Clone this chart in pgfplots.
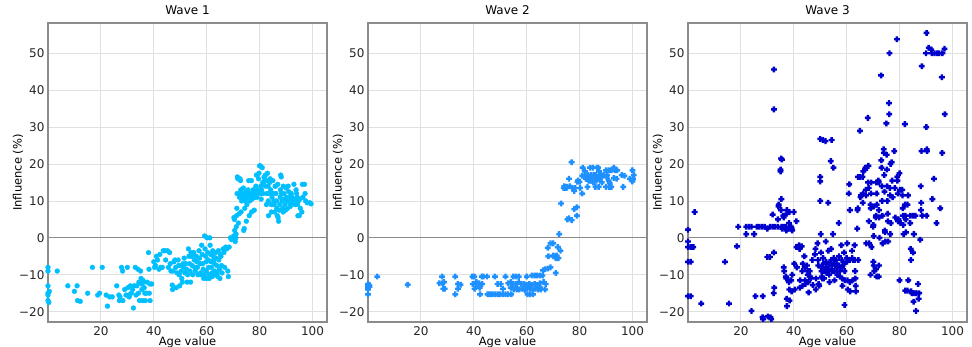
\documentclass[border=0pt]{standalone}
\usepackage{fontspec}
\setmainfont{DejaVu Sans}
\usepackage{pgfplots}
\pgfplotsset{compat=1.18}
\definecolor{c1}{RGB}{0,191,255}
\definecolor{c2}{RGB}{30,144,255}
\definecolor{c3}{RGB}{0,0,205}
\pgfdeclareplotmark{Pfill}{%
  \pgfpathrectangle{\pgfpoint{-\pgfplotmarksize}{-0.42\pgfplotmarksize}}{\pgfpoint{2\pgfplotmarksize}{0.84\pgfplotmarksize}}%
  \pgfpathrectangle{\pgfpoint{-0.42\pgfplotmarksize}{-\pgfplotmarksize}}{\pgfpoint{0.84\pgfplotmarksize}{2\pgfplotmarksize}}%
  \pgfusepathqfill}
\pgfplotsset{
  wave/.style={
    scale only axis, width=279pt, height=299pt, anchor=south west,
    xmin=0, xmax=105.5, ymin=-22.8, ymax=58.2,
    xtick={20,40,60,80,100}, xticklabels={20,40,60,80,100},
    ytick={-20,-10,0,10,20,30,40,50},
    yticklabels={−20,−10,0,10,20,30,40,50},
    major tick length=0pt,
    grid=major, grid style={draw=black!12, line width=0.8pt},
    extra y ticks={0}, extra y tick labels={},
    extra y tick style={grid style={draw=black!45, line width=1.1pt}},
    axis line style={draw=black!45, line width=1.1pt},
    xticklabel style={font=\fontsize{12}{13}\selectfont, text=black!85, yshift=-1pt},
    yticklabel style={font=\fontsize{12}{13}\selectfont, text=black!85},
    title style={at={(0.5,1)}, anchor=base, yshift=3pt, inner sep=0pt, font=\fontsize{12}{14}\selectfont},
    xlabel={Age value}, ylabel={Influence (\%)},
    label style={font=\fontsize{11.5}{13}\selectfont},
    xlabel style={at={(axis description cs:0.5,0)}, anchor=base, yshift=-24pt, inner sep=0pt},
    ylabel style={at={(axis description cs:-0.1075,0.5)}, anchor=center, inner sep=0pt},
  }
}
\begin{document}
\begin{tikzpicture}
\begin{axis}[wave, at={(48pt,25pt)}, title={Wave 1}]
\addplot[only marks, color=c1, mark=*, mark size=2.4pt, mark options={draw=c1, fill=c1}] table {
0 -8
0 -9
0 -13
0 -15
0 -15.5
0 -17
0.3 -17.5
0.5 -14.5
3.5 -9
7.5 -13
10 -14.5
11 -13
11.2 -17
12.2 -17.2
15 -15
16.8 -8
18.8 -15.5
19.5 -15
20.5 -8
22 -15.5
22.5 -18.5
23.3 -16
24.3 -16
26 -13
26.8 -15.5
27 -17
27.2 -16
27.8 -8
28.2 -9
28.3 -17
29 -14
29.5 -15.5
30 -8
30.2 -13.5
30.5 -15.5
30.7 -16
31.2 -13
31.5 -15
32 -14
32.3 -19
32.6 -13
33 -8
33.3 -15.5
33.6 -13
34 -8.5
34.2 -15
34.4 -12
34.6 -17
35 -9
35.2 -11
35.4 -12.5
35.5 -14
35.7 -17
35.9 -11.5
36.2 -12
36.4 -13.5
36.6 -15
36.8 -17
37.2 -15
37.5 -12
38 -4
38.2 -8.5
38.3 -15
38.5 -12.5
38.6 -17
39.2 -12.5
40 -6.5
40.3 -8
40.6 -7.5
41 -5
41.4 -6
42 -8.5
42.3 -4.5
42.6 -8
43.2 -8
43.6 -3.5
44.2 -3.5
44.5 -6
45.2 -3.5
45.5 -8
46 -4
46.2 -7
46.5 -9
47 -12.8
47.1 -14
47.3 -9
47.6 -6.5
48 -6
48.3 -8
48.5 -13.5
48.8 -9.5
49.2 -6
49.4 -7.5
49.6 -10
49.8 -13
50.2 -7.5
50.4 -9
50.6 -11
50.8 -12
51.1 -7
51.3 -8
51.5 -5.5
51.8 -9.5
52.1 -7
52.4 -8.5
52.6 -12
52.8 -10
53.1 -3
53.3 -5
53.5 -7
53.7 -9
53.9 -12
54.1 -4
54.3 -5
54.5 -7.5
54.7 -10
54.9 -4.5
55.1 -4
55.3 -6
55.5 -8
55.7 -9
56.1 -5
56.3 -6.5
56.5 -8
56.7 -10
57.1 -3.5
57.3 -5.5
57.5 -7
57.7 -9.5
57.9 -10
58.1 -2
58.3 -4.5
58.5 -7
58.7 -8.5
58.9 -11
59 -10
59.2 0.5
59.4 -3
59.6 -5
59.8 -6.5
59.9 -9
60 -11
60.2 0
60.4 -4
60.6 -6
60.8 -8
60.9 -10
61 -11
61.2 0
61.3 -2
61.5 -4.5
61.7 -6.5
61.8 -8
62 -9.5
62.1 -10.5
62.3 -3.5
62.5 -5
62.7 -6
62.9 -7
63 -9
63.2 -10
63.4 -4
63.6 -5.5
63.8 -7.5
64 -9.5
64.2 -10.5
64.4 -3.5
64.6 -6
64.8 -8.5
65 -11
65.2 -4.5
65.4 -5
65.6 -7.5
65.8 -9.5
66.2 -3
66.5 -4
66.8 -8
67.2 -2.5
67.6 -3
68 -9
68.2 -10.5
68.5 -2.5
69 0
69.4 -0.5
70 0
70.2 0.5
70.3 5.5
70.5 5
70.6 2
70.8 -1
71 0
71.1 1
71.2 3
71.3 6
71.4 8
71.5 12
71.6 16.5
71.8 16
72 4
72.2 6.5
72.4 11
72.5 12
72.6 16
72.8 15.5
72.9 13
73 7
73.2 10
73.4 11
73.6 12
73.7 10.5
73.8 11.5
73.9 13.5
74 2
74.2 2.5
74.4 8
74.5 10
74.7 11
74.9 12.5
75 4.5
75.2 9
75.4 11
75.5 12
75.7 13
75.8 11.5
75.9 15.5
76.1 6
76.3 10
76.5 11.5
76.7 12
76.9 15.5
77 7
77.2 10.5
77.4 12
77.6 13
77.8 11
78 7.5
78.2 11
78.4 12
78.6 14
78.8 17
78.9 12.5
79 11
79.2 12
79.4 13
79.6 16
79.8 17.5
80 19.5
80.3 19.5
80.4 12
80.5 14
80.6 10.5
80.8 13
81 19
81.2 15
81.3 12
81.5 14.5
81.7 16.5
82 16
82.2 17
82.3 14
82.5 15.5
82.6 9
82.8 12
83 17.5
83.2 14
83.3 10
83.4 6
83.6 12
83.8 15
84 16
84.2 13
84.4 9
84.5 7
84.7 11
84.9 12
85 15.5
85.2 12
85.4 10
85.5 9
85.7 7
85.9 14
86 14
86.2 12
86.4 10
86.5 8
86.7 6
86.9 14.5
87 5.5
87.2 4.5
87.4 7.5
87.6 9
87.8 11
87.9 13
88 17
88.2 16.5
88.3 12
88.5 10
88.7 8
88.9 7
89 14
89.2 12
89.4 10.5
89.6 9
89.8 7.5
90 13.5
90.2 11
90.4 10
90.6 8
90.8 14
91 12.5
91.2 10.5
91.4 9.5
91.6 8.5
91.8 11.5
92 12
92.2 11
92.4 10
92.6 9.5
93 14.5
93.2 10.5
93.4 9
93.6 10
93.8 13
94 12
94.2 11
94.4 9
94.5 6
94.7 10
95 6
95.2 10.5
95.4 8
96 7
96.2 14.5
96.4 11
97 14.5
97.2 12
97.4 10
98 9.5
99 9.5
99.5 9.2
};
\end{axis}
\begin{axis}[wave, at={(368pt,25pt)}, title={Wave 2}]
\addplot[only marks, color=c2, mark=Pfill, mark size=2.9pt, mark options={draw=none, fill=c2}] table {
0 -12.5
0 -13
0 -13.5
0 -14
0 -15.3
0.5 -12.8
0.6 -13.2
3.5 -10.5
15 -12.7
27 -12.3
28 -10.5
28.2 -12.3
28.5 -13.8
28.7 -12
29 -13.8
33 -10.5
33 -15.3
34 -12.5
34 -13.8
35 -12.7
39.5 -10.5
39.6 -12.5
40.2 -10.5
40.3 -13.8
41 -12
41.3 -12.7
42 -12.3
42.2 -13.5
42.4 -15.3
43 -10.5
43.2 -12.5
43.6 -10.5
45 -10.5
45.2 -15.3
46 -15.3
47 -15.3
48 -10.5
48 -15.3
49 -12.5
49 -15.3
50 -15.3
50.2 -12.5
51 -13.8
51 -15.3
52 -10.5
52 -15.3
53 -12.3
53 -15.3
54 -12
54 -13.5
54.2 -15.3
55 -10.5
55 -12.5
55.2 -14
56 -10.5
56 -12.5
56.2 -13.5
56.3 -14
57 -10.5
57 -12
57.2 -14
58 -12.5
58.2 -13.8
59 -12.5
59.2 -13.8
59.4 -14.2
60 -10.5
60 -12.8
60.2 -13.5
60.3 -15.3
61 -12.5
61.2 -13.8
61.3 -15.3
62 -10.2
62 -12.8
62.2 -14
62.4 -15.3
63 -10.2
63 -12.5
63.2 -13.8
64 -10.2
64 -12.8
64.2 -14
65 -10.2
65 -12.3
65.2 -13.5
65.3 -14
66 -10.2
66.2 -8.8
66.4 -12
67 -8.5
67 -14
67.2 -12.5
68 -8.3
68 -2.7
68.2 -5
69 -8
69 -1.5
70 -1.5
70 -4.8
70.2 -5
71 -5
71 -5.5
71 -9.5
71.3 -4.8
71.8 -2.5
72 -5.5
72.3 1
72.8 -3.5
73 9.3
74 13.5
74.2 14
74.4 13.8
75 13.5
75.2 13.8
75.4 5
76 16
76 5.3
76.3 14
77 20.5
77 4.8
77.3 13.5
78 7.8
78 12.7
78.3 13.5
79 8.3
79 6
79.2 15.2
79.4 15.5
80 15.2
80.2 13.5
81 12
81 16.8
81.2 19
82 16.5
82 18
82.2 17
82.4 16
83 13.8
83 16.2
83.2 17
83.4 15.5
84 19
84 16.5
84.2 15.5
84.4 17
84.6 16
85 19
85 16
85.2 15
85.4 17
86 13.8
86 16.5
86.2 17
86.4 15.5
86.6 19
87 19
87 16.5
87.2 13.8
87.4 18
87.6 16
88 17
88.2 16.5
88.4 15
89 16.8
89.2 17
90 18.3
90 13.8
90.2 16.5
90.4 17
91 18.3
91 15.5
91.2 13.8
91.4 14.8
92 18.3
92 13.8
93 19
93 16.2
93.3 18.3
94 16
94.2 18.3
96 17
96.5 13.8
97 16.8
99 16
100 18.3
100 15.3
100.2 16
100.5 17
};
\end{axis}
\begin{axis}[wave, at={(688pt,25pt)}, title={Wave 3}]
\addplot[only marks, color=c3, mark=Pfill, mark size=2.9pt, mark options={draw=none, fill=c3}] table {
0 2.2
0 -1
0 -2.5
0 -6.5
0 -15.8
1 -2.5
1 -6.5
1 -15.8
2 -2.5
2.5 7
5 -17.8
14 -6.5
15.5 -17.8
18.5 -2.3
19 3
22 3
22 1
23 3
24 3
24 -19.8
25 1
25.5 -15.8
26 3
27 3
28 3
28.3 -15.8
28.2 -21.5
28.4 -22
29 3
30 2.5
30 -5.2
30.2 -21.3
31 3
31 -5.2
31.2 -21.5
31.5 -22
32 3
32 6.3
32.5 45.6
32.5 34.8
32.5 -4
32.6 -13.5
32.4 -15
33 3
34 3
34 5
34.2 8.5
34.3 9
35 18.5
35 18
35.2 21.5
35.5 21.2
35.3 10.5
35.2 7.5
35.4 3
35.6 2.5
36 6
36.2 5.5
36.3 3
36.2 -8
36.4 -9
37 3
37.2 2
37.3 6.5
37.4 7.5
37 -10.5
37.2 -11
37.3 -16.5
37.4 -18.5
38 2.5
38.2 4
38.3 7
38 -11.5
38.2 -12
38.3 -14
38.4 -17
39 3
39.2 2.5
39.4 2
39 -11.5
39.2 -14.5
39.4 -10
40 7
40.2 -7
40.4 -14
41 4.5
41 -2.5
41.2 -8
42 -2
42.2 -3
42.3 -13.5
42.4 -11.5
43 -2.3
43.2 -9
43.3 -13
43.4 -7
44 -5
44.2 -8
44.3 -11.5
44.4 -12.5
45 -7.5
45.2 -9
45.3 -10
45.4 -12
45.6 -14.8
46 -9
46.2 -10.5
46.4 -11
47 -6
47.2 -12.8
48 -4.5
48.2 -3
48.3 -14
48.4 -11
49 -1.5
49.2 -6
49.3 -7.5
49.4 -12.5
49.6 -13
50 15.3
50 16.5
50 10
50 26.8
50.2 1
50.3 -4
50.4 -8
50.5 -9
50.6 -10.5
50.8 -11
51 26.5
51.1 -5.5
51.2 -7
51.3 -9
51.4 -11
52 26.2
52.1 -1
52.2 -6.5
52.3 -8
52.4 -9.5
53 9.5
53.1 -3.5
53.2 -7
53.3 -8.5
53.4 -10
53.5 -12
54 20.8
54.3 26.5
54.1 -3
54.2 -6
54.3 -7.5
54.4 -9
55 19
54.8 1
55.1 -5.5
55.2 -7
55.3 -9
55.4 -11.5
56 -6
56.1 -7
56.2 -8
56.3 -9
56.4 -10
57 4
57.1 -5
57.2 -7.5
57.3 -9
57.4 -10.5
58 -2
58.1 -6
58.2 -8
58.3 -11
58.4 -13
59 -4
59.1 -7
59.2 -9
59.3 -11.5
59.2 -18.2
60 -5.5
60.1 -6.5
60.2 -1.5
60.3 -11.5
60.4 -14
61 14.5
60.8 12
61.2 7.5
61.1 -6
61.2 -12
61.3 -14.5
62 -3.5
62.1 -5.5
62.2 -11.5
62.4 -6
63 -2
63.1 -6
63.2 -9
63.3 -11
63.4 -13
63.5 -14.5
64 2.5
64.1 7.5
64.2 8
64.3 16.5
64.4 -6
65 29
65 16.5
65.2 11
65.4 11.5
66 16.5
66.1 9.5
66.2 12
66.3 18
67 18.5
67.1 19
67.2 13
67.3 11.5
67.4 -1.5
68 32.5
68.1 15
68.2 19.5
68.3 13.5
68.4 4.5
68.5 -1.5
69 9
69.1 8
69.2 12
69.3 15
69 -10
69.4 -2.5
70 3
70.1 3.5
70.2 0.5
70.3 8.5
70.1 -6.5
70.2 -7.5
70.4 -9
71 5.5
71.1 6
71.2 15
71.3 12
71.4 9
71.1 -8.5
71.3 -10.5
72 15.5
72.1 15
72.2 7.5
72.3 5.5
72.1 -10.5
72.2 -7.5
72.4 0
73 44
73.1 21
73.2 19
73.3 14
73.4 10
73.5 6
73.6 -1.5
74 24
74.1 23
74.2 17
74.3 12.5
74.4 2
74.5 1.5
74.6 -1
75 31
75.1 22.5
75.2 18.5
75.3 14
75.4 10
75.5 6.5
75.6 4.5
75.7 -1
76 36.5
76.1 33.5
76.2 50
76.3 13.5
76.4 11.5
76.5 1
76.6 20
76.7 4
77 20.5
77.2 15.5
77.4 11
78 23.5
78.2 13.5
78.4 5.5
79 53.8
79.1 16.5
79.2 15.5
79.3 12
79.4 4.5
79.6 5
80 17.5
80.2 13
80.4 4
80 -11.5
81 13
81.1 11.5
81.2 8
81.3 6
81.4 3.5
81.5 1
82 30.8
82.1 9
82.2 6
82.3 5
82.4 1.5
82.2 -14.3
83 9
83.2 11.5
83 -14.3
83.3 -11.5
84 4
84.1 6
84.2 -3
84.3 -6
84.4 -14.5
84.6 -15
85 6
85.1 -4
85.2 -15
85.3 -17.3
85.4 1
86 6
86.1 -15
86.2 -19.8
86.4 -15
87 -12.5
87.2 -16.5
87.4 -15
88 14
88.1 7.5
88.2 9.5
88.3 23.5
88.4 46.5
87.8 -0.5
88.6 6
90 50
90.2 55.5
90.1 30
90.3 24
90.4 23.5
90.2 6
91 51.5
92 51
92.2 50
92.4 10.5
93 16
93.2 50
94 4
94.2 50
95 50
95.4 8
96 43.5
96.1 23
96.2 50
97 51.2
97.1 33.5
};
\end{axis}
\pgfresetboundingbox
\useasboundingbox (0,0) rectangle (972pt,347pt);
\end{tikzpicture}
\end{document}
